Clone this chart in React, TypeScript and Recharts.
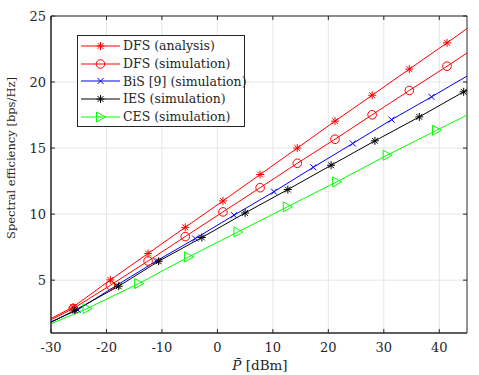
import { LineChart, Line, XAxis, YAxis, CartesianGrid, ReferenceArea, Legend } from 'recharts'

// marker positions (x in dBm)
const X_DFS = [-26, -19.3, -12.5, -5.8, 1.0, 7.7, 14.4, 21.2, 27.9, 34.6, 41.4]
const Y_DFS_ANA = [2.97, 5.02, 7.02, 9.0, 11.0, 13.0, 15.0, 17.04, 19.0, 20.98, 22.97]
const Y_DFS_SIM = [2.85, 4.61, 6.45, 8.3, 10.17, 12.0, 13.85, 15.67, 17.52, 19.36, 21.2]

const X_BIS = [-25.2, -18.2, -11.0, -4.0, 3.0, 10.2, 17.3, 24.4, 31.4, 38.6]
const Y_BIS = [2.75, 4.6, 6.45, 8.15, 9.92, 11.7, 13.55, 15.35, 17.15, 18.88]

const X_IES = [-25.7, -17.8, -10.6, -2.8, 5.0, 12.7, 20.5, 28.4, 36.4, 44.4]
const Y_IES = [2.72, 4.54, 6.43, 8.23, 10.09, 11.86, 13.7, 15.55, 17.36, 19.26]

const X_CES = [-23.5, -14.2, -5.2, 3.7, 12.6, 21.5, 30.6, 39.5]
const Y_CES = [2.85, 4.74, 6.76, 8.65, 10.55, 12.44, 14.46, 16.35]

// curve values at the plot edges (-30 and 45 dBm), no marker there
const X_EDGES = [-30, 45]
const EDGE_DFS_ANA = [2.1, 24.05]
const EDGE_DFS_SIM = [2.0, 22.2]
const EDGE_BIS = [1.85, 20.45]
const EDGE_IES = [1.8, 19.4]
const EDGE_CES = [1.7, 17.5]

const X_TICKS = [-30, -20, -10, 0, 10, 20, 30, 40]
const Y_TICKS = [5, 10, 15, 20, 25]

const FONT = 'DejaVu Serif'
const AXIS = '#262626'
const PLOT_TOP = 16
const PLOT_LEFT = 51
const PLOT_RIGHT = 467
const PLOT_BOTTOM = 333

type Pt = { x: number; y: number; m: boolean }

function build(xs: number[], ys: number[], edges: number[]): Pt[] {
  return [
    { x: X_EDGES[0], y: edges[0], m: false },
    ...xs.map((x, i) => ({ x, y: ys[i], m: true })),
    { x: X_EDGES[1], y: edges[1], m: false },
  ]
}

type Kind = 'star' | 'circle' | 'cross' | 'tri'

function Marker({ kind, cx, cy, color }: { kind: Kind; cx: number; cy: number; color: string }) {
  if (kind === 'star') {
    const r = 4, d = 2.9
    return (
      <g stroke={color} strokeWidth={1}>
        <line x1={cx - r} y1={cy} x2={cx + r} y2={cy} />
        <line x1={cx} y1={cy - r} x2={cx} y2={cy + r} />
        <line x1={cx - d} y1={cy - d} x2={cx + d} y2={cy + d} />
        <line x1={cx - d} y1={cy + d} x2={cx + d} y2={cy - d} />
      </g>
    )
  }
  if (kind === 'circle') return <circle cx={cx} cy={cy} r={4.3} fill="none" stroke={color} strokeWidth={1} />
  if (kind === 'cross') {
    const d = 3
    return (
      <g stroke={color} strokeWidth={1}>
        <line x1={cx - d} y1={cy - d} x2={cx + d} y2={cy + d} />
        <line x1={cx - d} y1={cy + d} x2={cx + d} y2={cy - d} />
      </g>
    )
  }
  return <polygon points={`${cx - 4},${cy - 5} ${cx - 4},${cy + 5} ${cx + 5},${cy}`} fill="none" stroke={color} strokeWidth={1} />
}

const SERIES = [
  { name: 'DFS (analysis)', color: '#ff0000', kind: 'star' as Kind, data: build(X_DFS, Y_DFS_ANA, EDGE_DFS_ANA) },
  { name: 'DFS (simulation)', color: '#ff0000', kind: 'circle' as Kind, data: build(X_DFS, Y_DFS_SIM, EDGE_DFS_SIM) },
  { name: 'BiS [9] (simulation)', color: '#0000ff', kind: 'cross' as Kind, data: build(X_BIS, Y_BIS, EDGE_BIS) },
  { name: 'IES (simulation)', color: '#000000', kind: 'star' as Kind, data: build(X_IES, Y_IES, EDGE_IES) },
  { name: 'CES (simulation)', color: '#00ff00', kind: 'tri' as Kind, data: build(X_CES, Y_CES, EDGE_CES) },
]

function XTick({ x, y, payload }: any) {
  return (
    <g>
      <line x1={x} y1={PLOT_BOTTOM} x2={x} y2={PLOT_BOTTOM - 4} stroke={AXIS} />
      <line x1={x} y1={PLOT_TOP} x2={x} y2={PLOT_TOP + 4} stroke={AXIS} />
      <text x={x} y={y + 19} textAnchor="middle" fill={AXIS} fontSize={13} fontFamily={FONT}>{payload.value}</text>
    </g>
  )
}

function YTick({ x, y, payload }: any) {
  return (
    <g>
      <line x1={PLOT_LEFT} y1={y} x2={PLOT_LEFT + 4} y2={y} stroke={AXIS} />
      <line x1={PLOT_RIGHT} y1={y} x2={PLOT_RIGHT - 4} y2={y} stroke={AXIS} />
      <text x={x - 5} y={y + 5} textAnchor="end" fill={AXIS} fontSize={13} fontFamily={FONT}>{payload.value}</text>
    </g>
  )
}

function XLabel() {
  return (
    <text x={260} y={370} textAnchor="middle" fill={AXIS} fontSize={13.5} fontFamily={FONT}>
      <tspan fontStyle="italic">P&#772;</tspan> [dBm]
    </text>
  )
}

function YLabel() {
  return (
    <text x={15} y={158} transform="rotate(-90, 15, 158)" textAnchor="middle" fill={AXIS} fontSize={11.5} fontFamily={FONT}>
      Spectral efficiency [bps/Hz]
    </text>
  )
}

function LegendBox() {
  return (
    <div style={{
      width: 166, height: 89, background: '#fff', border: `1px solid ${AXIS}`,
      fontFamily: FONT, fontSize: 12.5, color: AXIS, paddingTop: 1,
    }}>
      {SERIES.map(s => (
        <div key={s.name} style={{ display: 'flex', alignItems: 'center', height: 17.7, whiteSpace: 'nowrap' }}>
          <svg width={44} height={12} style={{ flexShrink: 0 }}>
            <line x1={3} y1={6} x2={42} y2={6} stroke={s.color} strokeWidth={1} />
            <Marker kind={s.kind} cx={22.5} cy={6} color={s.color} />
          </svg>
          <span style={{ marginLeft: 1 }}>{s.name}</span>
        </div>
      ))}
    </div>
  )
}

export default function App() {
  return (
    <div style={{ position: 'absolute', left: 0, top: 0, background: '#fff' }}>
      <LineChart width={479} height={375} margin={{ top: PLOT_TOP, right: 12, bottom: 0, left: 0 }} style={{ fontFamily: FONT }}>
        <CartesianGrid stroke="#e6e6e6" horizontalValues={Y_TICKS} verticalValues={X_TICKS} />
        <XAxis
          dataKey="x"
          type="number"
          domain={[-30, 45]}
          ticks={X_TICKS}
          allowDataOverflow
          height={42}
          tickSize={0}
          tickMargin={0}
          tick={<XTick />}
          axisLine={{ stroke: AXIS }}
          label={<XLabel />}
        />
        <YAxis
          type="number"
          domain={[1, 25]}
          ticks={Y_TICKS}
          allowDataOverflow
          width={51}
          tickSize={0}
          tickMargin={0}
          tick={<YTick />}
          axisLine={{ stroke: AXIS }}
          label={<YLabel />}
        />
        <ReferenceArea x1={-30} x2={45} y1={1} y2={25} fill="none" stroke={AXIS} ifOverflow="visible" />
        {SERIES.map(s => (
          <Line
            key={s.name}
            data={s.data}
            dataKey="y"
            name={s.name}
            type="linear"
            stroke={s.color}
            strokeWidth={1}
            isAnimationActive={false}
            activeDot={false}
            dot={(p: any) => (
              <g key={`${s.name}-${p.index}`}>
                {p.payload.m && <Marker kind={s.kind} cx={p.cx} cy={p.cy} color={s.color} />}
              </g>
            )}
          />
        ))}
        <Legend
          layout="vertical"
          align="center"
          verticalAlign="middle"
          content={<LegendBox />}
          wrapperStyle={{ left: 77, top: 35, width: 168, height: 91 }}
        />
      </LineChart>
    </div>
  )
}
